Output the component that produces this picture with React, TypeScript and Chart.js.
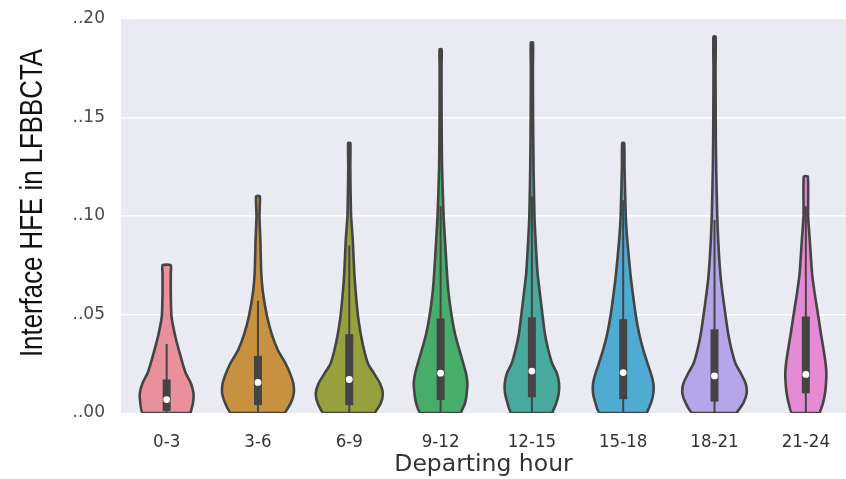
import { useEffect, useRef } from 'react';
import { Chart, registerables } from 'chart.js';

Chart.register(...registerables);

// Departure-time bands on the x axis
const hourBands = ['0-3', '3-6', '6-9', '9-12', '12-15', '15-18', '18-21', '21-24'];

// Fill colour for each band's violin
const violinColors = ['#E8909C', '#C8913F', '#96A13E', '#48AD6B', '#48A99E', '#50ABD2', '#B5A5E9', '#E68AD5'];

// Heights at which the kernel density is sampled
const densityLevels = [0, 0.005, 0.01, 0.015, 0.02, 0.025, 0.032, 0.04, 0.049, 0.061, 0.071, 0.088, 0.1, 0.125, 0.15, 0.175];

// Largest observed HFE per band (the violin is cut there)
const maxHfe = [0.075, 0.11, 0.137, 0.1846, 0.188, 0.137, 0.191, 0.12];

// Half-width of each violin at the density levels (category units); last entry is the width at the maximum
const density03 = [0.261, 0.288, 0.294, 0.266, 0.211, 0.176, 0.133, 0.089, 0.053, 0.045, 0.045, 0.045];
const density36 = [0.294, 0.359, 0.392, 0.387, 0.352, 0.304, 0.217, 0.151, 0.1, 0.055, 0.036, 0.026, 0.016, 0.02];
const density69 = [0.279, 0.345, 0.367, 0.337, 0.272, 0.206, 0.162, 0.126, 0.096, 0.071, 0.055, 0.038, 0.02, 0.011, 0.012];
const density912 = [0.22, 0.268, 0.286, 0.294, 0.279, 0.25, 0.206, 0.159, 0.122, 0.087, 0.07, 0.048, 0.033, 0.016, 0.011, 0.01, 0.011];
const density1215 = [0.223, 0.267, 0.294, 0.297, 0.275, 0.223, 0.18, 0.143, 0.118, 0.087, 0.062, 0.04, 0.028, 0.018, 0.013, 0.011, 0.012];
const density1518 = [0.257, 0.304, 0.33, 0.33, 0.304, 0.268, 0.22, 0.176, 0.14, 0.104, 0.078, 0.044, 0.028, 0.014, 0.011];
const density1821 = [0.242, 0.315, 0.352, 0.341, 0.29, 0.231, 0.187, 0.151, 0.122, 0.087, 0.063, 0.04, 0.03, 0.018, 0.013, 0.011, 0.012];
const density2124 = [0.151, 0.188, 0.21, 0.221, 0.225, 0.217, 0.195, 0.166, 0.137, 0.096, 0.068, 0.043, 0.025, 0.022];
const densityProfiles = [density03, density36, density69, density912, density1215, density1518, density1821, density2124];

// Inner box statistics
const whiskerLow = [0, 0, 0, 0, 0, 0, 0, 0];
const quartile1 = [0.001, 0.004, 0.004, 0.0066, 0.008, 0.007, 0.0058, 0.01];
const medians = [0.0068, 0.0155, 0.017, 0.0202, 0.0213, 0.0205, 0.0188, 0.0196];
const quartile3 = [0.017, 0.029, 0.04, 0.048, 0.0486, 0.0476, 0.0425, 0.049];
const whiskerHigh = [0.035, 0.057, 0.085, 0.105, 0.11, 0.108, 0.098, 0.105];

const yTicks = [0, 0.05, 0.1, 0.15, 0.2];

const OUTLINE = '#444444';

function violinOutline(i: number) {
  const widths = densityProfiles[i];
  const levels = densityLevels.slice(0, widths.length - 1).concat([maxHfe[i]]);
  const right = levels.map((y, k) => ({ x: i + widths[k], y }));
  const left = levels.map((y, k) => ({ x: i - widths[k], y })).reverse();
  return [...right, ...left, right[0]];
}

const plotBackground = {
  id: 'plotBackground',
  beforeDraw(chart: any) {
    const { ctx, chartArea } = chart;
    ctx.save();
    ctx.fillStyle = '#EAEAF2';
    ctx.fillRect(chartArea.left, chartArea.top, chartArea.right - chartArea.left, chartArea.bottom - chartArea.top);
    ctx.restore();
  },
};

// Narrow sans-serif y-axis title, drawn rotated along the left edge
const yAxisTitle = {
  id: 'yAxisTitle',
  afterDraw(chart: any) {
    const { ctx, chartArea } = chart;
    ctx.save();
    ctx.translate(42, (chartArea.top + chartArea.bottom) / 2 - 13);
    ctx.rotate(-Math.PI / 2);
    ctx.scale(0.82, 1);
    ctx.textAlign = 'center';
    ctx.textBaseline = 'alphabetic';
    ctx.fillStyle = '#111111';
    ctx.font = "31.5px 'Liberation Sans', Arial, sans-serif";
    ctx.fillText('Interface HFE in LFBBCTA', 0, 0);
    ctx.restore();
  },
};

export default function App() {
  const canvasRef = useRef<HTMLCanvasElement | null>(null);

  useEffect(() => {
    document.body.style.margin = '0';
    const canvas = canvasRef.current;
    if (!canvas) return;

    const violins = hourBands.map((band, i) => ({
      label: band,
      data: violinOutline(i),
      showLine: true,
      fill: 'shape',
      backgroundColor: violinColors[i],
      borderColor: OUTLINE,
      borderWidth: 2.6,
      borderJoinStyle: 'round',
      tension: 0.2,
      pointRadius: 0,
      order: 4,
    }));

    const whiskers = hourBands.map((band, i) => ({
      label: band + ' whisker',
      data: [
        { x: i, y: whiskerLow[i] },
        { x: i, y: whiskerHigh[i] },
      ],
      showLine: true,
      fill: false,
      borderColor: OUTLINE,
      borderWidth: 2,
      pointRadius: 0,
      order: 3,
    }));

    const boxes = hourBands.map((band, i) => ({
      label: band + ' box',
      data: [
        { x: i, y: quartile1[i] },
        { x: i, y: quartile3[i] },
      ],
      showLine: true,
      fill: false,
      borderColor: OUTLINE,
      borderWidth: 8,
      borderCapStyle: 'butt',
      pointRadius: 0,
      order: 2,
    }));

    const medianDots = {
      label: 'median',
      data: medians.map((m, i) => ({ x: i, y: m })),
      showLine: false,
      pointRadius: 3.4,
      pointBackgroundColor: '#ffffff',
      pointBorderWidth: 0,
      order: 1,
    };

    const chart = new Chart(canvas, {
      type: 'scatter',
      data: { datasets: [...violins, ...whiskers, ...boxes, medianDots] as any },
      options: {
        responsive: false,
        animation: false,
        events: [],
        layout: { autoPadding: false, padding: { top: 19, right: 0, bottom: 0, left: 0 } },
        plugins: { legend: { display: false }, tooltip: { enabled: false } },
        scales: {
          x: {
            type: 'linear',
            min: -0.5,
            max: 7.44,
            afterBuildTicks: (axis: any) => {
              axis.ticks = hourBands.map((_, i) => ({ value: i }));
            },
            afterFit: (axis: any) => {
              axis.height = 66;
              axis.paddingLeft = 0;
              axis.paddingRight = 0;
            },
            grid: { display: false, drawTicks: false },
            border: { display: false },
            ticks: {
              padding: 18,
              color: '#333333',
              font: { family: "'DejaVu Sans Condensed', 'DejaVu Sans', sans-serif", size: 18.5 },
              callback: (v: any) => hourBands[Math.round(Number(v))],
            },
            title: {
              display: true,
              text: 'Departing hour',
              color: '#333333',
              padding: { top: 0, bottom: 0 },
              font: { family: "'DejaVu Sans', sans-serif", size: 23.5 },
            },
          },
          y: {
            type: 'linear',
            min: 0,
            max: 0.2,
            afterBuildTicks: (axis: any) => {
              axis.ticks = yTicks.map((v) => ({ value: v }));
            },
            afterFit: (axis: any) => {
              axis.width = 121;
              axis.paddingTop = 0;
              axis.paddingBottom = 0;
            },
            grid: {
              drawTicks: false,
              lineWidth: 1.6,
              color: (ctx: any) => {
                const v = ctx.tick ? ctx.tick.value : 0;
                return v <= 0 || v >= 0.2 ? 'rgba(0,0,0,0)' : '#ffffff';
              },
            },
            border: { display: false },
            ticks: {
              padding: 16,
              color: '#4a4a4a',
              font: { family: "'DejaVu Sans', sans-serif", size: 17 },
              callback: (v: any) => '.' + Number(v).toFixed(2).slice(1),
            },
          },
        },
      },
      plugins: [plotBackground, yAxisTitle],
    });

    return () => chart.destroy();
  }, []);

  return (
    <div style={{ width: 846, height: 479 }}>
      <canvas ref={canvasRef} width={846} height={479} />
    </div>
  );
}
